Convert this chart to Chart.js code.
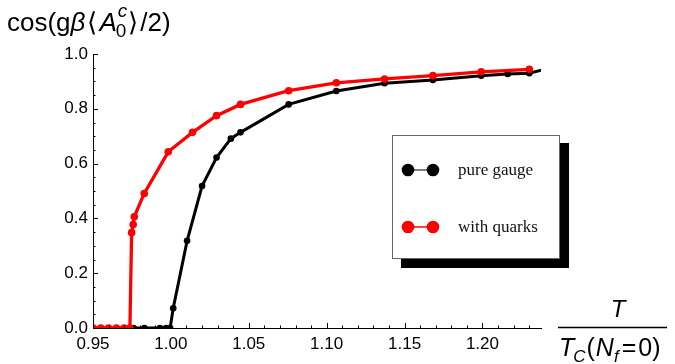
<!DOCTYPE html>
<html>
<head>
<meta charset="utf-8">
<script src="https://cdn.jsdelivr.net/npm/chart.js@4.4.0/dist/chart.umd.min.js"></script>
<style>
  html, body { margin: 0; padding: 0; background: #fff; }
  #wrap { width: 675px; height: 364px; }
</style>
</head>
<body>
<div id="wrap"><canvas id="myChart" width="675" height="364"></canvas></div>
<script>
'use strict'
// T / Tc(Nf=0) and the order parameter
let gaugeT = [0.976, 0.983, 0.993, 0.997, 0.9995, 1.0015, 1.0104, 1.0200, 1.0293, 1.0385,
    1.0447, 1.0756, 1.1062, 1.1372, 1.1682, 1.1992, 1.2162, 1.2301, 1.2455];
let gaugeCos = [0, 0, 0, 0, 0, 0.072, 0.318, 0.518, 0.622, 0.691,
    0.714, 0.816, 0.865, 0.893, 0.905, 0.921, 0.927, 0.930, 0.952];

let quarkT = [0.950, 0.955, 0.960, 0.965, 0.970, 0.9737, 0.9748, 0.9758, 0.9765, 0.9829,
    0.9983, 1.0139, 1.0293, 1.0447, 1.0756, 1.1062, 1.1372, 1.1682, 1.1992, 1.2301];
let quarkCos = [0, 0, 0, 0, 0, 0, 0.348, 0.378, 0.406, 0.491,
    0.643, 0.714, 0.775, 0.816, 0.866, 0.895, 0.909, 0.921, 0.935, 0.944];

let seriesNames = ['pure gauge', 'with quarks'];
let xTicks = [0.95, 1.00, 1.05, 1.10, 1.15, 1.20];
let yTicks = [0.0, 0.2, 0.4, 0.6, 0.8, 1.0];

let sans = '"Liberation Sans", Arial, sans-serif';
let serif = '"Liberation Serif", "Times New Roman", serif';

function toPoints(xs, ys) {
    let pts = [];
    for (let i = 0; i < xs.length; i++) {
        pts.push({ x: xs[i], y: ys[i] });
    }
    return pts;
}

// inward major / minor ticks like the original plot
let tickPlugin = {
    id: 'inTicks',
    afterDatasetsDraw(chart) {
        let ctx = chart.ctx;
        let xs = chart.scales.x;
        let ys = chart.scales.y;
        let area = chart.chartArea;
        ctx.save();
        ctx.strokeStyle = '#000';
        ctx.lineWidth = 1;
        ctx.beginPath();
        for (let i = 0; i <= 28; i++) {
            let v = 0.95 + i * 0.01;
            let px = Math.round(xs.getPixelForValue(v)) + 0.5;
            let len = (i % 5 === 0) ? 5 : 2.5;
            ctx.moveTo(px, area.bottom);
            ctx.lineTo(px, area.bottom - len);
        }
        for (let i = 0; i <= 20; i++) {
            let v = i * 0.05;
            let py = Math.round(ys.getPixelForValue(v)) + 0.5;
            let len = (i % 4 === 0) ? 5 : 2.5;
            ctx.moveTo(area.left, py);
            ctx.lineTo(area.left + len, py);
        }
        ctx.stroke();
        ctx.restore();
    }
};

function piece(ctx, text, x, y, font) {
    ctx.font = font;
    ctx.fillText(text, x, y);
    return x + ctx.measureText(text).width;
}

let labelPlugin = {
    id: 'axisLabels',
    afterDraw(chart) {
        let ctx = chart.ctx;
        ctx.save();
        ctx.fillStyle = '#000';
        ctx.textBaseline = 'alphabetic';
        ctx.textAlign = 'left';

        // y axis label: cos(g beta <A_0^c>/2)
        let big = '26px ' + sans;
        let x = 7;
        let base = 31;
        x = piece(ctx, 'cos(g', x, base, big);
        x = piece(ctx, 'β', x, base, 'italic ' + big);
        x = piece(ctx, '⟨', x + 2, base, big);
        x = piece(ctx, 'A', x + 2, base, 'italic ' + big);
        let xs = piece(ctx, 'c', x + 1, base - 14, 'italic 19px ' + sans);
        let xb = piece(ctx, '0', x - 1, base + 6, '19px ' + sans);
        x = Math.max(xs, xb);
        x = piece(ctx, '⟩', x + 1, base, big);
        piece(ctx, '/2)', x + 2, base, big);

        // x axis label: T / T_C(N_f=0)
        ctx.font = 'italic 24px ' + sans;
        let tw = ctx.measureText('T').width;
        piece(ctx, 'T', 618 - tw / 2, 317, 'italic 24px ' + sans);
        ctx.strokeStyle = '#000';
        ctx.lineWidth = 1.3;
        ctx.beginPath();
        ctx.moveTo(558, 327.5);
        ctx.lineTo(667, 327.5);
        ctx.stroke();
        let d = 559;
        let db = 356;
        d = piece(ctx, 'T', d, db, 'italic 25px ' + sans);
        d = piece(ctx, 'C', d - 1, db + 6, 'italic 17px ' + sans);
        d = piece(ctx, '(', d + 1, db, '25px ' + sans);
        d = piece(ctx, 'N', d + 1, db, 'italic 25px ' + sans);
        d = piece(ctx, 'f', d, db + 6, 'italic 17px ' + sans);
        d = piece(ctx, '=', d + 3, db, '25px ' + sans);
        piece(ctx, '0)', d + 2, db, '25px ' + sans);

        // legend box with drop shadow
        ctx.fillStyle = '#000';
        ctx.fillRect(401, 143, 168, 125);
        ctx.fillStyle = '#fff';
        ctx.fillRect(392, 135, 168, 124);
        ctx.strokeStyle = '#666';
        ctx.lineWidth = 1;
        ctx.strokeRect(392.5, 135.5, 167, 123);

        let colors = ['#000000', '#ff0000'];
        let rows = [170, 227];
        for (let i = 0; i < seriesNames.length; i++) {
            let y = rows[i];
            ctx.strokeStyle = i === 0 ? '#555' : '#ff0000';
            ctx.lineWidth = 1.5;
            ctx.beginPath();
            ctx.moveTo(408, y);
            ctx.lineTo(433, y);
            ctx.stroke();
            ctx.fillStyle = colors[i];
            ctx.beginPath();
            ctx.arc(408, y, 6.3, 0, Math.PI * 2);
            ctx.arc(433, y, 6.3, 0, Math.PI * 2);
            ctx.fill();
            ctx.fillStyle = '#111';
            ctx.font = '17px ' + serif;
            ctx.fillText(seriesNames[i], 458, y + 5);
        }
        ctx.restore();
    }
};

let ctx = document.getElementById('myChart').getContext('2d');
let myChart = new Chart(ctx, {
    type: 'line',
    data: {
        datasets: [{
            label: seriesNames[0],
            data: toPoints(gaugeT, gaugeCos),
            borderColor: '#000000',
            backgroundColor: '#000000',
            borderWidth: 3,
            pointRadius: 3.3,
            pointBorderWidth: 0,
            pointBackgroundColor: '#000000',
            tension: 0,
            order: 1
        }, {
            label: seriesNames[1],
            data: toPoints(quarkT, quarkCos),
            borderColor: '#ff0000',
            backgroundColor: '#ff0000',
            borderWidth: 3.3,
            pointRadius: 3.8,
            pointBorderWidth: 0,
            pointBackgroundColor: '#ff0000',
            tension: 0,
            order: 0
        }]
    },
    options: {
        responsive: false,
        animation: false,
        events: [],
        layout: { padding: { top: 54, right: 134, left: 0, bottom: 0 } },
        plugins: {
            legend: { display: false },
            tooltip: { enabled: false }
        },
        scales: {
            x: {
                type: 'linear',
                min: 0.95,
                max: 1.2376,
                afterBuildTicks: function (scale) {
                    scale.ticks = xTicks.map(v => ({ value: v }));
                },
                afterFit: function (scale) { scale.height = 36; },
                grid: { display: true, drawOnChartArea: false, drawTicks: false },
                border: { display: true, color: '#000', width: 1 },
                ticks: {
                    color: '#000',
                    padding: 6,
                    maxRotation: 0,
                    autoSkip: false,
                    font: { family: sans, size: 17 },
                    callback: v => v.toFixed(2)
                }
            },
            y: {
                type: 'linear',
                min: 0,
                max: 1,
                afterBuildTicks: function (scale) {
                    scale.ticks = yTicks.map(v => ({ value: v }));
                },
                afterFit: function (scale) { scale.width = 93; },
                grid: { display: true, drawOnChartArea: false, drawTicks: false },
                border: { display: true, color: '#000', width: 1 },
                ticks: {
                    color: '#000',
                    padding: 5,
                    autoSkip: false,
                    font: { family: sans, size: 17 },
                    callback: v => v.toFixed(1)
                }
            }
        }
    },
    plugins: [tickPlugin, labelPlugin]
});
</script>
</body>
</html>
